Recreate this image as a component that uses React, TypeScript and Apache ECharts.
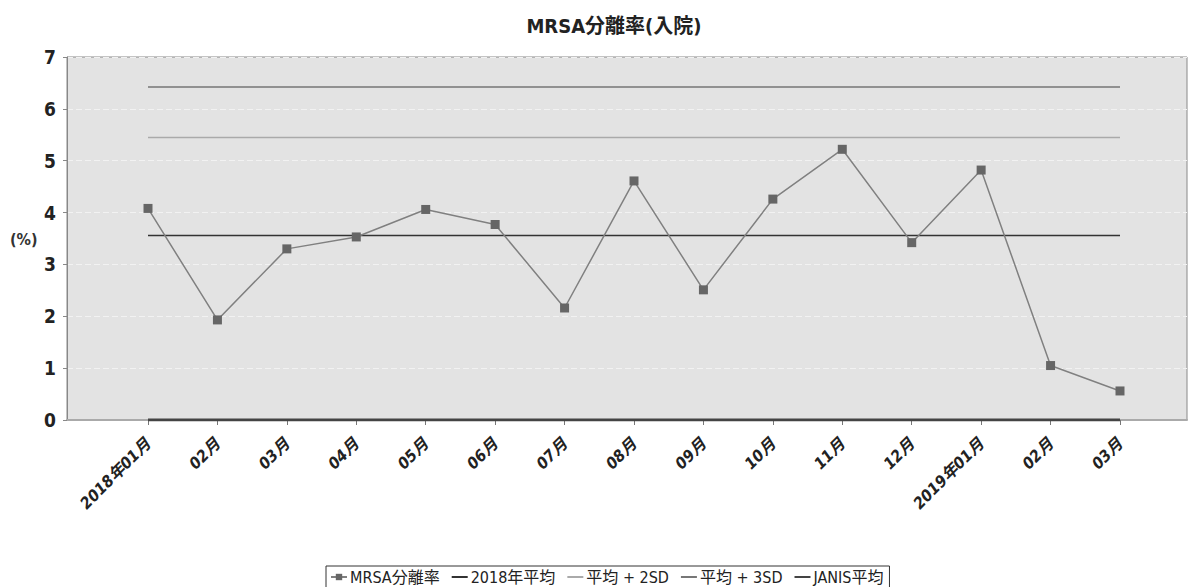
import React, { useEffect, useRef } from "react";
import * as echarts from "echarts";

const categories = [
  "2018年01月", "02月", "03月", "04月", "05月", "06月", "07月", "08月",
  "09月", "10月", "11月", "12月", "2019年01月", "02月", "03月",
];
const mrsaRate = [4.08, 1.93, 3.3, 3.53, 4.06, 3.77, 2.16, 4.61, 2.51, 4.26, 5.22, 3.42, 4.82, 1.05, 0.56];
const mean2018 = 3.56;
const plus2SD = 5.45;
const plus3SD = 6.42;
const janisMean = 0;
const yTicks = [0, 1, 2, 3, 4, 5, 6, 7];

const FONT = "'Liberation Sans Narrow', 'DejaVu Sans Condensed', 'Noto Sans CJK JP', sans-serif";
const LINE_ICON = "path://M0,0H16V2H0Z";

export default function App() {
  const ref = useRef<HTMLDivElement>(null);
  useEffect(() => {
    if (!ref.current) return;
    const chart = echarts.init(ref.current, null, { renderer: "svg" });
    const flat = (v: number) => categories.map(() => v);
    chart.setOption({
      animation: false,
      backgroundColor: "#ffffff",
      textStyle: { fontFamily: FONT },
      title: {
        text: "MRSA分離率(入院)",
        left: 609,
        top: 11,
        textAlign: "center",
        textStyle: { fontFamily: FONT, fontSize: 20, fontWeight: "bold", color: "#222" },
      },
      graphic: [
        {
          type: "text",
          left: 10,
          top: 231,
          style: { text: "(%)", fontFamily: FONT, fontSize: 16, fontWeight: "bold", fill: "#333" },
        },
      ],
      legend: {
        bottom: -4,
        left: 326,
        orient: "horizontal",
        borderColor: "#333",
        borderWidth: 1,
        padding: [3, 6, 6, 4],
        itemGap: 12,
        itemWidth: 16,
        itemHeight: 8,
        symbolKeepAspect: true,
        textStyle: { fontFamily: FONT, fontSize: 16, color: "#222", padding: [0, 0, 0, -2] },
        data: [
          { name: "MRSA分離率" },
          { name: "2018年平均", icon: LINE_ICON },
          { name: "平均 + 2SD", icon: LINE_ICON },
          { name: "平均 + 3SD", icon: LINE_ICON },
          { name: "JANIS平均", icon: LINE_ICON },
        ],
      },
      grid: [
        {
          left: 67, right: 7, top: 57, bottom: 167,
          show: true, backgroundColor: "#e3e3e3", borderColor: "#888", borderWidth: 1,
        },
        { left: 148, right: 74, top: 57, bottom: 167 },
      ],
      xAxis: [
        {
          gridIndex: 0, type: "value", min: 0, max: 1, offset: 5,
          axisLine: { show: true, lineStyle: { color: "#aaa", width: 2 } },
          axisTick: { show: false }, axisLabel: { show: false }, splitLine: { show: false },
        },
        {
          gridIndex: 1, type: "category", data: categories, boundaryGap: false, offset: 5,
          axisLine: { show: false },
          axisTick: { show: true, length: 5, lineStyle: { color: "#777" } },
          axisLabel: {
            rotate: 45, fontFamily: FONT, fontSize: 16, fontStyle: "italic", fontWeight: "bold",
            color: "#222", margin: 16, interval: 0,
          },
          splitLine: { show: false },
        },
      ],
      yAxis: [
        {
          gridIndex: 0, type: "value", min: 0, max: 7, interval: 1, offset: 5,
          axisLine: { show: true, lineStyle: { color: "#888", width: 1 } },
          axisTick: { show: true, length: 4, lineStyle: { color: "#888" } },
          axisLabel: {
            fontFamily: FONT, fontSize: 19, fontWeight: "bold", color: "#222", margin: 6,
            formatter: (v: number) => (yTicks.includes(v) ? String(v) : ""),
          },
          splitLine: { show: true, lineStyle: { color: "#f2f2f2", type: [6, 3], width: 1 } },
        },
        {
          gridIndex: 1, type: "value", min: 0, max: 7, interval: 1, show: false,
          splitLine: { show: false },
        },
      ],
      series: [
        {
          name: "JANIS平均", type: "line", xAxisIndex: 1, yAxisIndex: 1, data: flat(janisMean),
          symbol: "none", color: "#444", lineStyle: { color: "#444", width: 3 }, z: 2,
        },
        {
          name: "2018年平均", type: "line", xAxisIndex: 1, yAxisIndex: 1, data: flat(mean2018),
          symbol: "none", color: "#333", lineStyle: { color: "#333", width: 1.5 }, z: 2,
        },
        {
          name: "平均 + 2SD", type: "line", xAxisIndex: 1, yAxisIndex: 1, data: flat(plus2SD),
          symbol: "none", color: "#aaa", lineStyle: { color: "#aaa", width: 1.5 }, z: 2,
        },
        {
          name: "平均 + 3SD", type: "line", xAxisIndex: 1, yAxisIndex: 1, data: flat(plus3SD),
          symbol: "none", color: "#777", lineStyle: { color: "#777", width: 1.5 }, z: 2,
        },
        {
          name: "MRSA分離率", type: "line", xAxisIndex: 1, yAxisIndex: 1, data: mrsaRate,
          symbol: "rect", symbolSize: 9, color: "#666",
          itemStyle: { color: "#666" }, lineStyle: { color: "#808080", width: 1.5 }, z: 5,
        },
      ],
    });
    return () => chart.dispose();
  }, []);
  return (
    <div
      ref={ref}
      style={{ position: "fixed", left: 0, top: 0, width: 1194, height: 587 }}
    />
  );
}
